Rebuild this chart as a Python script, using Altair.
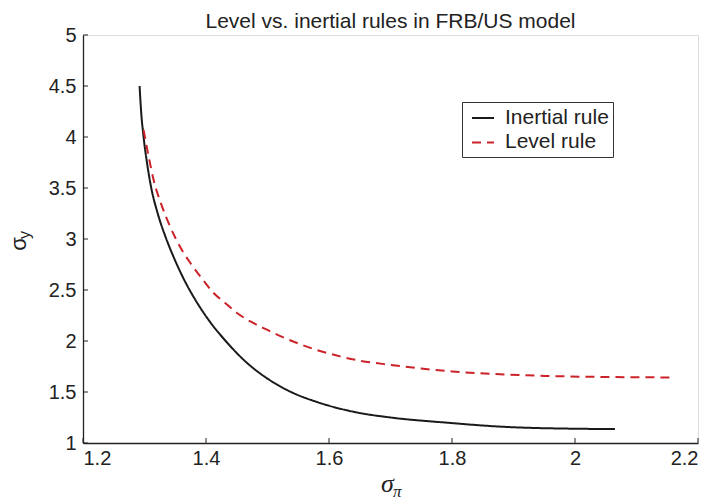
import altair as alt
import pandas as pd

# ---- data ----
inertial_y = [4.50, 4.25, 4.00, 3.75, 3.50, 3.25, 3.00, 2.80, 2.60, 2.40,
              2.20, 2.00, 1.80, 1.60, 1.495, 1.405, 1.30, 1.25, 1.20, 1.16,
              1.14, 1.137]
inertial_x = [1.292, 1.2945, 1.2985, 1.304, 1.311, 1.3215, 1.3355, 1.349, 1.3645, 1.383,
              1.405, 1.432, 1.464, 1.508, 1.540, 1.579, 1.645, 1.700, 1.790, 1.880,
              2.000, 2.065]
level_x = [1.2985, 1.3067, 1.3148, 1.3285, 1.340, 1.362, 1.3745, 1.393, 1.4124, 1.431,
           1.4504, 1.472, 1.499, 1.521, 1.548, 1.575, 1.618, 1.650, 1.70, 1.75,
           1.80, 1.87, 1.95, 2.05, 2.155]
level_y = [4.07, 3.81, 3.58, 3.32, 3.145, 2.88, 2.765, 2.615, 2.471, 2.373,
           2.275, 2.192, 2.111, 2.048, 1.98, 1.922, 1.849, 1.807, 1.766, 1.730,
           1.702, 1.676, 1.658, 1.647, 1.643]
series_names = ["Inertial rule", "Level rule"]
x_ticks = [1.2, 1.4, 1.6, 1.8, 2.0, 2.2]
y_ticks = [1, 1.5, 2, 2.5, 3, 3.5, 4, 4.5, 5]
title_text = "Level vs. inertial rules in FRB/US model"

rows = []
for i, (x, y) in enumerate(zip(inertial_x, inertial_y)):
    rows.append({"sx": x, "sy": y, "series": series_names[0], "i": i})
for i, (x, y) in enumerate(zip(level_x, level_y)):
    rows.append({"sx": x, "sy": y, "series": series_names[1], "i": i})
df = pd.DataFrame(rows)

W, H = 615, 408
INK = "#222222"
xscale = alt.Scale(domain=[1.2, 2.2], nice=False, zero=False)
yscale = alt.Scale(domain=[1, 5], nice=False, zero=False)

legend_kw = dict(title=None, orient="none", legendX=379, legendY=67,
                 symbolType="stroke", symbolSize=484, symbolStrokeWidth=2,
                 symbolOffset=5, labelFontSize=21, labelFont="Liberation Sans",
                 labelColor=INK, labelOffset=10, padding=4, rowPadding=2.4,
                 strokeColor="#333333", fillColor="white")

lines = alt.Chart(df).mark_line(strokeWidth=2, interpolate="monotone").encode(
    x=alt.X("sx:Q", scale=xscale,
            axis=alt.Axis(values=x_ticks, format="~g", title="", ticks=False,
                          labelPadding=5, labelFontSize=20, labelColor=INK,
                          domainColor=INK, domainWidth=1.3, grid=False,
                          labelFont="Liberation Sans")),
    y=alt.Y("sy:Q", scale=yscale,
            axis=alt.Axis(values=y_ticks, format="~g", title="", ticks=False,
                          labelPadding=7, labelFontSize=20, labelColor=INK,
                          domainColor=INK, domainWidth=1.3, grid=False,
                          labelFont="Liberation Sans")),
    color=alt.Color("series:N",
                    scale=alt.Scale(domain=series_names, range=["#1a1a1a", "#cc2229"]),
                    legend=alt.Legend(**legend_kw)),
    strokeDash=alt.StrokeDash("series:N",
                              scale=alt.Scale(domain=series_names, range=[[1, 0], [9, 6]]),
                              legend=alt.Legend(**legend_kw)),
    order="i:Q",
)

xt = alt.Chart(pd.DataFrame({"v": x_ticks})).mark_rule(color=INK, strokeWidth=1).encode(
    x=alt.X("v:Q", scale=xscale), y=alt.value(H), y2=alt.value(H - 5))
yt = alt.Chart(pd.DataFrame({"v": y_ticks})).mark_rule(color=INK, strokeWidth=1).encode(
    y=alt.Y("v:Q", scale=yscale), x=alt.value(0), x2=alt.value(5))

# chart title as a text mark just above the frame
ttl = alt.Chart(pd.DataFrame({"t": [title_text]})).mark_text(
    font="Liberation Sans", fontSize=21, color=INK,
    align="center", baseline="alphabetic").encode(
    text="t:N", x=alt.value(W / 2), y=alt.value(-7))

# axis titles: sigma with subscripts
xsig = alt.Chart(pd.DataFrame({"t": ["σ"]})).mark_text(
    font="Liberation Serif", fontStyle="italic", fontSize=26, color=INK,
    align="left", baseline="alphabetic").encode(
    text="t:N", x=alt.value(298), y=alt.value(457))
xsub = alt.Chart(pd.DataFrame({"t": ["π"]})).mark_text(
    font="Liberation Serif", fontStyle="italic", fontSize=17, color=INK,
    align="left", baseline="alphabetic").encode(
    text="t:N", x=alt.value(310), y=alt.value(462))
ysig = alt.Chart(pd.DataFrame({"t": ["σ"]})).mark_text(
    font="Liberation Sans", fontSize=22, color=INK, angle=270,
    align="center", baseline="alphabetic").encode(
    text="t:N", x=alt.value(-57), y=alt.value(209))
ysub = alt.Chart(pd.DataFrame({"t": ["y"]})).mark_text(
    font="Liberation Sans", fontSize=16, color=INK, angle=270,
    align="center", baseline="alphabetic").encode(
    text="t:N", x=alt.value(-53), y=alt.value(200))

chart = alt.layer(lines, xt, yt, ttl, xsig, xsub, ysig, ysub).properties(
    width=W, height=H,
    autosize=alt.AutoSizeParams(type="none"),
    padding={"left": 75, "top": 27, "right": 8, "bottom": 60},
).configure_view(stroke=INK, strokeWidth=1.3).configure(background="white")

chart.save("out.html", embed_options={"renderer": "svg", "actions": False})
